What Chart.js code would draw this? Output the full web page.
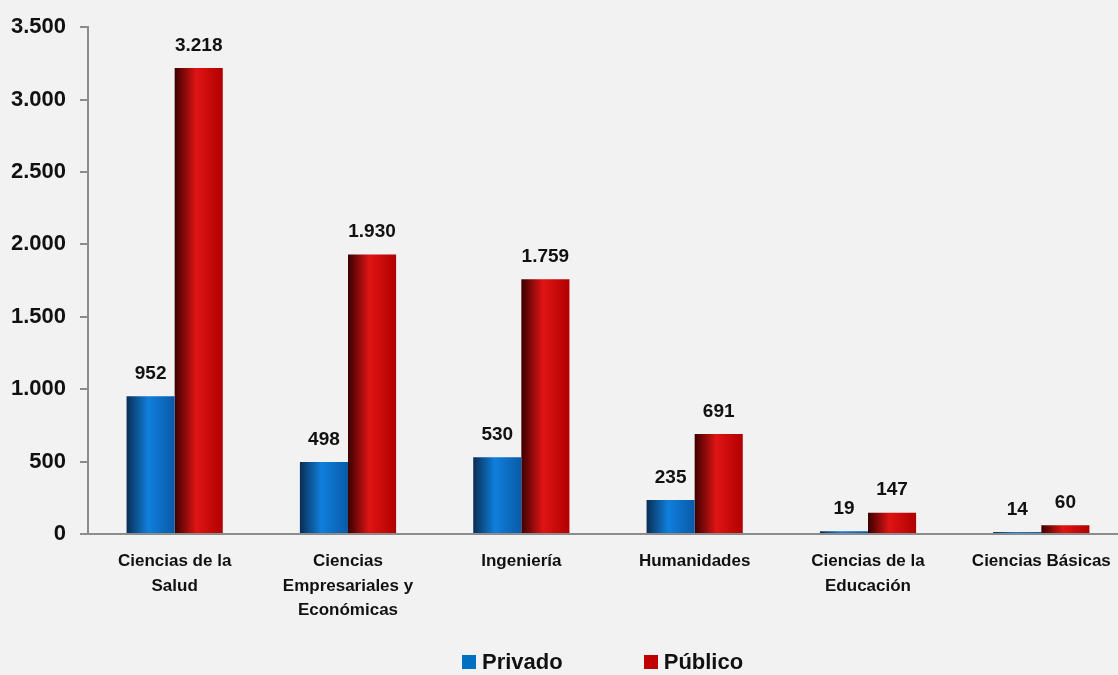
<!DOCTYPE html>
<html>
<head>
<meta charset="utf-8">
<script src="https://cdn.jsdelivr.net/npm/chart.js@4"></script>
<style>
  html, body { margin: 0; padding: 0; background: #f2f2f2; overflow: hidden; }
  #wrap { width: 1128px; height: 675px; position: relative; }
  #legend {
    position: absolute; left: 462px; top: 649px;
    display: flex; gap: 81px;
    font: bold 22px 'Liberation Sans', Arial, sans-serif; color: #111;
  }
  #legend span.item { display: inline-flex; align-items: center; }
  #legend span.box { width: 14px; height: 14px; margin-right: 6px; display: inline-block; }
</style>
</head>
<body>
<div id="wrap"><canvas id="areasChart"></canvas><div id="legend"></div></div>
<script>
// DATA

const areas = [
  ["Ciencias de la", "Salud"],
  ["Ciencias", "Empresariales y", "Económicas"],
  "Ingeniería",
  "Humanidades",
  ["Ciencias de la", "Educación"],
  "Ciencias Básicas"
];
const privado = [952, 498, 530, 235, 19, 14];
const publico = [3218, 1930, 1759, 691, 147, 60];
const yTicks = [0, 500, 1000, 1500, 2000, 2500, 3000, 3500];
const seriesNames = ["Privado", "Público"];
const legendColors = ["#0070c0", "#c00000"];

const FONT = "'Liberation Sans', Arial, sans-serif";
const CAT_PCT = 0.555;

const fmt = v => v.toLocaleString("es-ES", { useGrouping: "always" }).replace(/\s/g, ".");

// BAR GRADIENTS

function barGradient(ctx, stops, dsIndex) {
  const chart = ctx.chart;
  const x = chart.scales.x;
  if (!chart.chartArea || !x || ctx.dataIndex === undefined) return stops[1];
  const step = x.width / areas.length;
  const w = step * CAT_PCT / 2;
  const center = x.getPixelForValue(ctx.dataIndex);
  const left = dsIndex === 0 ? center - w : center;
  const g = chart.ctx.createLinearGradient(left, 0, left + w, 0);
  g.addColorStop(0, stops[0]);
  g.addColorStop(0.45, stops[1]);
  g.addColorStop(1, stops[2]);
  return g;
}

const blueStops = ["#0a2d55", "#0f7fdc", "#0a5aa8"];
const redStops = ["#3c0000", "#e01414", "#b00000"];

// VALUE LABELS

const valueLabels = {
  id: "valueLabels",
  afterDatasetsDraw(chart) {
    const { ctx } = chart;
    ctx.save();
    ctx.font = "bold 19px " + FONT;
    ctx.fillStyle = "#111";
    ctx.textAlign = "center";
    ctx.textBaseline = "bottom";
    chart.data.datasets.forEach((ds, i) => {
      chart.getDatasetMeta(i).data.forEach((bar, j) => {
        ctx.fillText(fmt(ds.data[j]), bar.x, bar.y - 13);
      });
    });
    ctx.restore();
  }
};

// CHART

const chart = new Chart(document.getElementById("areasChart"), {
  type: "bar",
  data: {
    labels: areas,
    datasets: [{
      label: seriesNames[0],
      data: privado,
      backgroundColor: c => barGradient(c, blueStops, 0),
      borderWidth: 0
    }, {
      label: seriesNames[1],
      data: publico,
      backgroundColor: c => barGradient(c, redStops, 1),
      borderWidth: 0
    }]
  },
  plugins: [valueLabels],
  options: {
    responsive: true,
    maintainAspectRatio: false,
    animation: false,
    categoryPercentage: CAT_PCT,
    barPercentage: 1,
    layout: { padding: { top: 5, right: 0, left: 0, bottom: 0 } },
    plugins: {
      tooltip: { enabled: false },
      legend: { display: false }
    },
    scales: {
      x: {
        afterFit: s => { s.height = 141; },
        grid: { display: false },
        border: { display: true, color: "#8c8c8c", width: 2 },
        ticks: {
          color: "#111",
          padding: 7,
          maxRotation: 0,
          autoSkip: false,
          font: { family: FONT, size: 17, weight: "bold", lineHeight: 1.45 }
        }
      },
      y: {
        min: 0,
        max: 3500,
        afterBuildTicks: s => { s.ticks = yTicks.map(v => ({ value: v })); },
        afterFit: s => { s.width = 88; },
        grid: {
          display: true,
          drawOnChartArea: false,
          drawTicks: true,
          tickLength: 8,
          color: "#8c8c8c",
          lineWidth: 2
        },
        border: { display: true, color: "#8c8c8c", width: 2 },
        ticks: {
          color: "#111",
          padding: 14,
          font: { family: FONT, size: 22, weight: "bold" },
          callback: v => fmt(v)
        }
      }
    }
  }
});

// LEGEND

document.getElementById("legend").innerHTML = chart.data.datasets.map((ds, i) =>
  `<span class="item"><span class="box" style="background:${legendColors[i]}"></span>${ds.label}</span>`
).join("");
</script>
</body>
</html>
